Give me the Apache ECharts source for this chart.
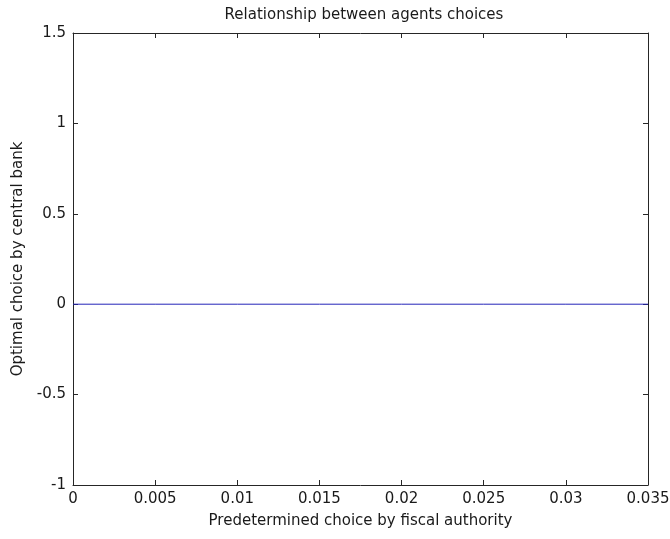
<!DOCTYPE html>
<html>
<head>
<meta charset="utf-8">
<script src="https://cdn.jsdelivr.net/npm/echarts@6/dist/echarts.min.js"></script>
<style>
  html, body { margin: 0; padding: 0; background: #fff; }
  #chart { width: 670px; height: 539px; }
</style>
</head>
<body>
<div id="chart"></div>
<script>
// Fiscal authority's predetermined choice and the central bank's optimal response
const fiscalChoice = [0, 0.005, 0.01, 0.015, 0.02, 0.025, 0.03, 0.035];
const bankChoice = [0, 0, 0, 0, 0, 0, 0, 0];

const xTicks = { min: 0, max: 0.035, step: 0.005 };
const yTicks = { min: -1, max: 1.5, step: 0.5 };

const chartTitle = 'Relationship between agents choices';
const xName = 'Predetermined choice by fiscal authority';
const yName = 'Optimal choice by central bank';

const font = '"DejaVu Sans", "Liberation Sans", Arial, sans-serif';
const fontSize = 15;
const axisColor = '#262626';
const textColor = '#1a1a1a';

function fmt(v) {
  return String(parseFloat(v.toFixed(6)));
}

function boxAxis(base, show) {
  return Object.assign({
    axisLine: { show: true, onZero: false, lineStyle: { color: axisColor, width: 1 } },
    axisTick: { show: true, inside: true, length: 5, lineStyle: { color: axisColor } },
    splitLine: { show: false },
    axisLabel: show ? {
      show: true, color: textColor, fontFamily: font, fontSize: fontSize, margin: 7, formatter: fmt
    } : { show: false }
  }, base);
}

const chart = echarts.init(document.getElementById('chart'), null, { renderer: 'canvas' });
chart.setOption({
  animation: false,
  backgroundColor: '#fff',
  title: {
    text: chartTitle,
    left: 359, top: 3, textAlign: 'center',
    textStyle: { fontFamily: font, fontSize: fontSize, fontWeight: 'normal', color: textColor }
  },
  grid: { left: 73, right: 22, top: 33, bottom: 54, outerBoundsMode: 'none', containLabel: false },
  xAxis: [
    boxAxis({
      type: 'value', position: 'bottom', min: xTicks.min, max: xTicks.max, interval: xTicks.step,
      name: xName, nameLocation: 'middle', nameGap: 29,
      nameTextStyle: { fontFamily: font, fontSize: fontSize, color: textColor }
    }, true),
    boxAxis({ type: 'value', position: 'top', min: xTicks.min, max: xTicks.max, interval: xTicks.step }, false)
  ],
  yAxis: [
    boxAxis({
      type: 'value', position: 'left', min: yTicks.min, max: yTicks.max, interval: yTicks.step,
      name: yName, nameLocation: 'middle', nameGap: 47,
      nameTextStyle: { fontFamily: font, fontSize: fontSize, color: textColor }
    }, true),
    boxAxis({ type: 'value', position: 'right', min: yTicks.min, max: yTicks.max, interval: yTicks.step }, false)
  ],
  series: [{
    type: 'line',
    xAxisIndex: 0, yAxisIndex: 0,
    data: fiscalChoice.map((x, i) => [x, bankChoice[i]]),
    showSymbol: false,
    lineStyle: { color: '#2424b8', width: 1 },
    z: 1
  }]
});
</script>
</body>
</html>
